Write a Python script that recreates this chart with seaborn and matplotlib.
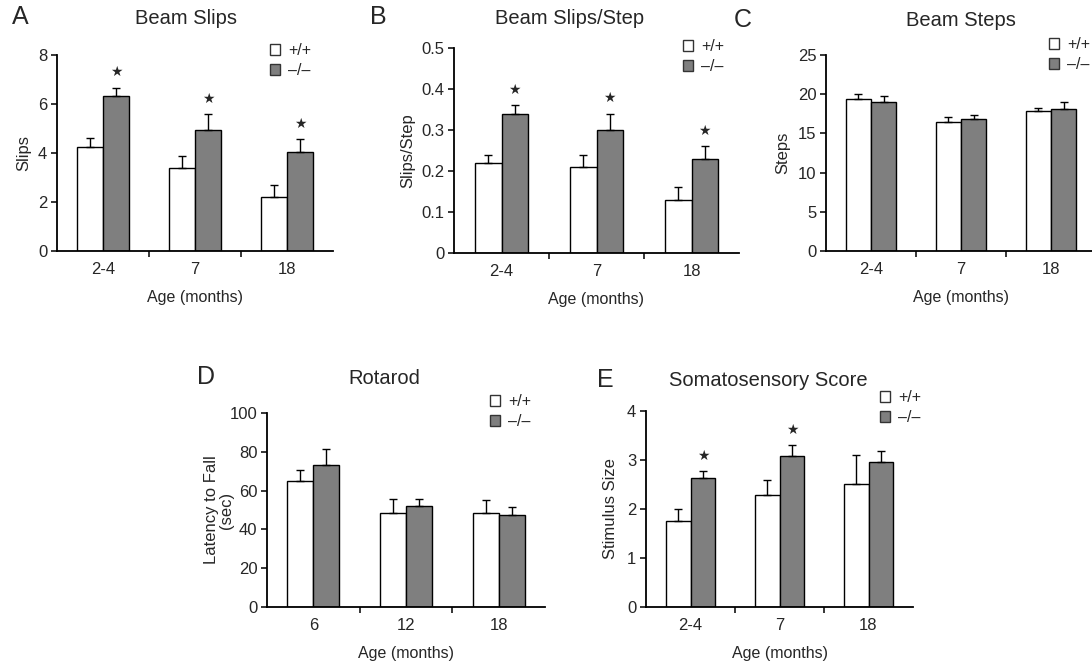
import numpy as np
import pandas as pd
import matplotlib
matplotlib.use('Agg')
import matplotlib.pyplot as plt
import matplotlib.patches as mpatches
from matplotlib.ticker import FuncFormatter
import seaborn as sns

sns.set_style('ticks')
plt.rcParams['font.family'] = ['Liberation Sans', 'DejaVu Sans']

genotypes = ['+/+', '\u2013/\u2013']
colors = {'+/+': 'white', '\u2013/\u2013': '#7f7f7f'}

# A - beam slips
slips_age = ['2-4', '7', '18']
slips_wt = [4.25, 3.38, 2.22]
slips_wt_err = [0.38, 0.48, 0.47]
slips_ko = [6.33, 4.94, 4.05]
slips_ko_err = [0.34, 0.64, 0.52]
slips_sig = [True, True, True]

# B - beam slips per step
sps_age = ['2-4', '7', '18']
sps_wt = [0.22, 0.21, 0.13]
sps_wt_err = [0.02, 0.03, 0.03]
sps_ko = [0.34, 0.30, 0.23]
sps_ko_err = [0.02, 0.04, 0.03]
sps_sig = [True, True, True]

# C - beam steps
steps_age = ['2-4', '7', '18']
steps_wt = [19.45, 16.5, 17.85]
steps_wt_err = [0.6, 0.6, 0.45]
steps_ko = [18.95, 16.8, 18.15]
steps_ko_err = [0.8, 0.5, 0.85]
steps_sig = [False, False, False]

# D - rotarod
rot_age = ['6', '12', '18']
rot_wt = [64.8, 48.3, 48.5]
rot_wt_err = [6.0, 7.3, 6.8]
rot_ko = [73.0, 52.3, 47.6]
rot_ko_err = [8.4, 3.4, 3.8]
rot_sig = [False, False, False]

# E - somatosensory score
soma_age = ['2-4', '7', '18']
soma_wt = [1.76, 2.28, 2.51]
soma_wt_err = [0.25, 0.31, 0.59]
soma_ko = [2.63, 3.08, 2.95]
soma_ko_err = [0.15, 0.23, 0.23]
soma_sig = [True, True, False]

W, H = 1092, 665
fig = plt.figure(figsize=(W / 100, H / 100), dpi=100)


def px_axes(left, top, right, bottom):
    return fig.add_axes([left / W, 1 - bottom / H, (right - left) / W, (bottom - top) / H])


def draw_panel(ax, ages, wt, wt_err, ko, ko_err, sig, ymax, ystep, ylabel, ylab_off, leg_xy):
    df = pd.DataFrame({
        'age': ages + ages,
        'genotype': [genotypes[0]] * len(ages) + [genotypes[1]] * len(ages),
        'value': wt + ko,
    })
    sns.barplot(data=df, x='age', y='value', hue='genotype', order=ages,
                hue_order=genotypes, palette=colors, saturation=1, width=0.56,
                edgecolor='black', linewidth=1, errorbar=None, legend=False, ax=ax)
    # upward-only SEM bars
    for cont, errs in zip(ax.containers, [wt_err, ko_err]):
        xs = [b.get_x() + b.get_width() / 2 for b in cont]
        hs = [b.get_height() for b in cont]
        ax.errorbar(xs, hs, yerr=[np.zeros(len(errs)), errs], fmt='none',
                    ecolor='black', elinewidth=1, capsize=3, capthick=1, zorder=1)
    for b, e, s in zip(ax.containers[1], ko_err, sig):
        if s:
            ax.annotate('\u2605', (b.get_x() + b.get_width() / 2, b.get_height() + e),
                        xytext=(0, 11), textcoords='offset points',
                        ha='center', va='center', fontsize=10, family='DejaVu Sans')
    ax.set_xlim(-0.5, len(ages) - 0.5)
    ax.set_ylim(0, ymax)
    ax.set_yticks(np.arange(0, ymax + ystep / 2, ystep))
    ax.yaxis.set_major_formatter(FuncFormatter(lambda v, p: f'{round(v, 3):g}'))
    ax.set_xticks(range(len(ages)))
    ax.set_xticklabels(ages)
    ax.set_xticks([i + 0.5 for i in range(len(ages) - 1)], minor=True)
    ax.tick_params(axis='x', which='major', length=0, pad=8, labelsize=12)
    ax.tick_params(axis='x', which='minor', length=4, width=1.3, direction='out')
    ax.tick_params(axis='y', length=4, width=1.3, pad=3, labelsize=12)
    ax.set_xlabel('Age (months)', fontsize=11.5, labelpad=9)
    ax.set_ylabel(ylabel, fontsize=12, linespacing=1.0)
    ax_w = ax.get_position().width * W
    ax.yaxis.set_label_coords(-ylab_off / ax_w, 0.5)
    sns.despine(ax=ax)
    for sp in ['left', 'bottom']:
        ax.spines[sp].set_linewidth(1.3)
        ax.spines[sp].set_color('black')
    handles = [mpatches.Patch(facecolor=colors[g], edgecolor='#333333', linewidth=1, label=g)
               for g in genotypes]
    ax.legend(handles=handles, loc='upper left',
              bbox_to_anchor=(leg_xy[0] / W, 1 - leg_xy[1] / H), bbox_transform=fig.transFigure,
              frameon=False, fontsize=11.5, handlelength=0.65, handleheight=0.65,
              handletextpad=0.5, labelspacing=0.3, borderpad=0, borderaxespad=0)


axA = px_axes(57, 55, 333, 251)
draw_panel(axA, slips_age, slips_wt, slips_wt_err, slips_ko, slips_ko_err, slips_sig,
           8, 2, 'Slips', 26, (270, 43))
axB = px_axes(454, 48, 739, 253)
draw_panel(axB, sps_age, sps_wt, sps_wt_err, sps_ko, sps_ko_err, sps_sig,
           0.5, 0.1, 'Slips/Step', 39, (683, 39))
axC = px_axes(826, 55, 1096, 251)
draw_panel(axC, steps_age, steps_wt, steps_wt_err, steps_ko, steps_ko_err, steps_sig,
           25, 5, 'Steps', 36, (1049, 37))
axD = px_axes(267, 413, 545, 607)
draw_panel(axD, rot_age, rot_wt, rot_wt_err, rot_ko, rot_ko_err, rot_sig,
           100, 20, 'Latency to Fall\n(sec)', 33, (490, 394))
axE = px_axes(646, 411, 913, 607)
draw_panel(axE, soma_age, soma_wt, soma_wt_err, soma_ko, soma_ko_err, soma_sig,
           4, 1, 'Stimulus Size', 28, (880, 390))

titles = [('Beam Slips', 186, 19), ('Beam Slips/Step', 570, 19), ('Beam Steps', 961, 20),
          ('Rotarod', 384, 378), ('Somatosensory Score', 768, 380)]
for t, x, y in titles:
    fig.text(x / W, 1 - y / H, t, ha='center', va='center', fontsize=14.5)

letters = [('A', 12, 17), ('B', 370, 17), ('C', 734, 20), ('D', 197, 377), ('E', 597, 380)]
for t, x, y in letters:
    fig.text(x / W, 1 - y / H, t, ha='left', va='center', fontsize=18)

fig.savefig('out.png', dpi=100)
